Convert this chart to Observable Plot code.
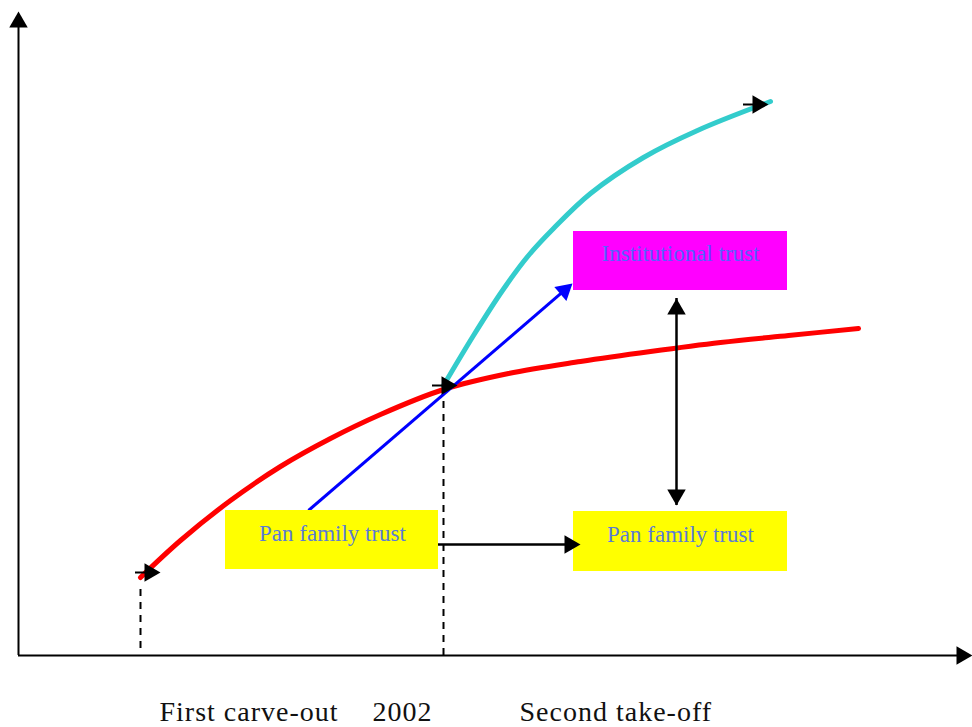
<!DOCTYPE html>
<html><head><meta charset="utf-8">
<script src="https://cdn.jsdelivr.net/npm/d3@7"></script>
<script src="https://cdn.jsdelivr.net/npm/@observablehq/plot@0.6"></script>
<style>body{margin:0;background:#fff} svg{overflow:visible}</style>
</head><body><div id="chart"></div><script>
// Conceptual units: x = time (0..954), y = trust level (0..645)
const redX = [122,162,212,262,312,362,425,490,562,632,702,770,840];
const redY = [78,115,155,189,217,241,266,282,294,304,313,320,327];
const cyanX = [425,455,484,510,535,572,625,679,752];
const cyanY = [270,320,365,400,427,462,498,525,554];
const blueArrow = {x1:290, y1:145, x2:554, y2:372};
const boxes = [
  {label:"Pan family trust", x1:207, x2:420, y1:86, y2:145, tx:314, ty:115, fill:"#ffff00", color:"#5b7bd5"},
  {label:"Pan family trust", x1:555, x2:769, y1:84, y2:144, tx:662, ty:114, fill:"#ffff00", color:"#5b7bd5"},
  {label:"Institutional trust", x1:555, x2:769, y1:365, y2:424, tx:662, ty:395, fill:"#ff00ff", color:"#5560ff"}
];
const dashX = [122, 425];
const dashTop = [72, 263];
const dashBottom = [7, 0];
const curveTips = [{x:142,y:83},{x:439,y:270},{x:750,y:551}];
const vArrow = {x:658, y1:150, y2:357};
const hArrow = {y:111, x1:418, x2:562};
const axisMax = {x:954, y:644};
const bottomLabels = ["First carve-out","2002","Second take-off"];
const bottomLabelX = [141, 354, 501];
const bottomLabelY = -65;

const H = 10.67; // triangle centroid-to-tip
function head(tx, ty, dx, dy) {
  const L = Math.hypot(dx, dy);
  return {x: tx - H*dx/L, y: ty - H*dy/L, rotate: Math.atan2(dx, dy)*180/Math.PI};
}
const heads = [
  head(0, axisMax.y, 0, 1),
  head(axisMax.x, 0, 1, 0),
  ...curveTips.map(t => head(t.x, t.y, 1, 0)),
  head(vArrow.x, vArrow.y2, 0, 1),
  head(vArrow.x, vArrow.y1, 0, -1),
  head(hArrow.x2, hArrow.y, 1, 0)
];
const blueHead = head(blueArrow.x2, blueArrow.y2, blueArrow.x2-blueArrow.x1, blueArrow.y2-blueArrow.y1);
const ticks = curveTips.map(t => ({x1:t.x-25, x2:t.x-10, y:t.y}));
const red = redX.map((x,i)=>({x, y:redY[i]}));
const cyan = cyanX.map((x,i)=>({x, y:cyanY[i]}));
const dashes = dashX.map((x,i)=>({x, y1:dashBottom[i], y2:dashTop[i]}));
const labels = bottomLabels.map((t,i)=>({t, x:bottomLabelX[i], y:bottomLabelY}));

const chart = Plot.plot({
  width: 972, height: 727,
  marginLeft: 18, marginRight: 0, marginTop: 10, marginBottom: 72,
  x: {domain:[0,954], axis:null},
  y: {domain:[0,645], axis:null},
  style: {fontFamily:"Liberation Serif", background:"#fff"},
  marks: [
    Plot.ruleX([0], {y1:0, y2:axisMax.y - 8, stroke:"black", strokeWidth:2}),
    Plot.ruleY([0], {x1:0, x2:axisMax.x - 8, stroke:"black", strokeWidth:2}),
    Plot.ruleX(dashes, {x:"x", y1:"y1", y2:"y2", stroke:"black", strokeWidth:2, strokeDasharray:"7,6"}),
    Plot.line(red, {x:"x", y:"y", stroke:"#ff0000", strokeWidth:5, curve:"catmull-rom"}),
    Plot.line(cyan, {x:"x", y:"y", stroke:"#33cccc", strokeWidth:5, curve:"catmull-rom"}),
    Plot.link([blueArrow], {x1:"x1", y1:"y1", x2:d=>blueHead.x, y2:d=>blueHead.y, stroke:"#0000ff", strokeWidth:3}),
    Plot.dot([blueHead], {x:"x", y:"y", rotate:"rotate", symbol:"triangle", r:6.86, fill:"#0000ff", stroke:"none"}),
    Plot.ruleY(ticks, {x1:"x1", x2:"x2", y:"y", stroke:"black", strokeWidth:2}),
    Plot.ruleX([vArrow], {x:"x", y1:"y1", y2:"y2", stroke:"black", strokeWidth:2.5}),
    Plot.ruleY([hArrow], {y:"y", x1:"x1", x2:d=>d.x2-8, stroke:"black", strokeWidth:2.5}),
    Plot.rect(boxes, {x1:"x1", x2:"x2", y1:"y1", y2:"y2", fill:"fill"}),
    Plot.text(boxes, {x:"tx", y:"ty", text:"label", fill:"color", fontSize:23, lineAnchor:"bottom", textAnchor:"middle"}),
    Plot.dot(heads, {x:"x", y:"y", rotate:"rotate", symbol:"triangle", r:6.86, fill:"black", stroke:"none"}),
    Plot.text(labels, {x:"x", y:"y", text:"t", fill:"#111", fontSize:28, lineAnchor:"bottom", textAnchor:"start"})
  ]
});
d3.select(chart).selectAll("text").filter(function(){return bottomLabels.includes(this.textContent);}).attr("letter-spacing", 1);
document.getElementById("chart").appendChild(chart);
</script></body></html>
